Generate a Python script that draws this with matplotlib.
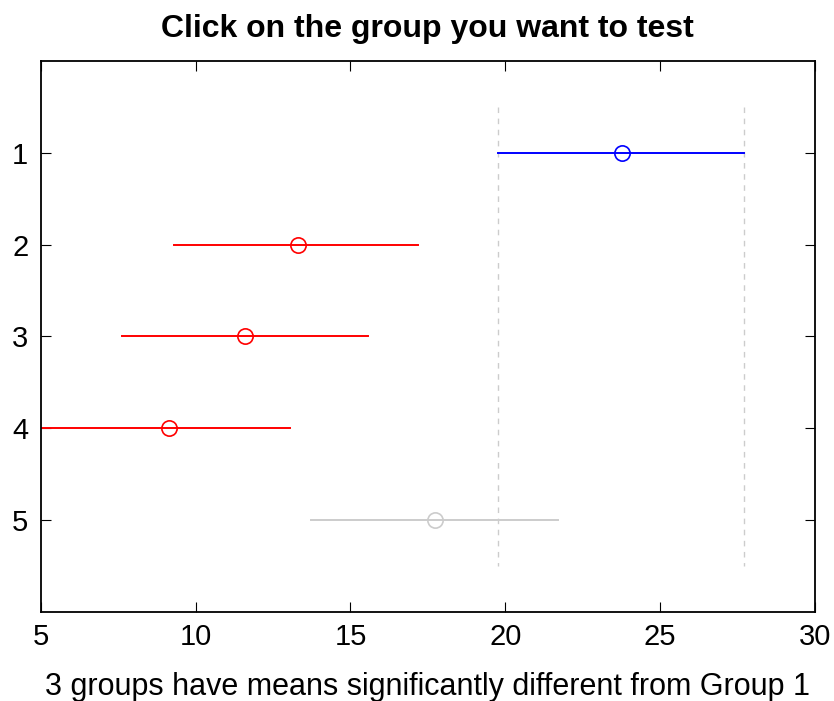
import matplotlib.pyplot as plt

groups = [1, 2, 3, 4, 5]
means = [23.77, 13.29, 11.58, 9.13, 17.74]
lower = [19.77, 9.29, 7.61, 5.0, 13.74]
upper = [27.71, 17.19, 15.58, 13.06, 21.71]
colors = ["blue", "red", "red", "red", (0.8, 0.8, 0.8)]
xticks = [5, 10, 15, 20, 25, 30]

plt.rcParams["font.family"] = ["Liberation Sans", "DejaVu Sans"]

fig = plt.figure(figsize=(8.34, 7.01), dpi=100)
ax = fig.add_axes([0.049, 0.127, 0.928, 0.786])

# reference interval of the selected group
for xv in (lower[0], upper[0]):
    ax.plot([xv, xv], [0.5, 5.5], color=(0.8, 0.8, 0.8), ls="--", lw=1.0, dashes=(4, 4))

for g, m, lo, hi, c in zip(groups, means, lower, upper, colors):
    ax.plot([lo, hi], [g, g], color=c, lw=1.4)
    ax.plot(m, g, "o", mfc="none", mec=c, ms=11, mew=1.2)

ax.set_xlim(5, 30)
ax.set_ylim(6, 0)
ax.set_xticks(xticks)
ax.set_yticks(groups)
ax.tick_params(direction="in", top=True, right=True, length=7, labelsize=21)
ax.tick_params(axis="x", pad=8)
ax.tick_params(axis="y", pad=9)
for s in ax.spines.values():
    s.set_linewidth(1.3)
ax.set_title("Click on the group you want to test", fontsize=23, fontweight="bold", pad=17)
ax.set_xlabel("3 groups have means significantly different from Group 1", fontsize=22, labelpad=15)

fig.savefig("out.png", dpi=100)
